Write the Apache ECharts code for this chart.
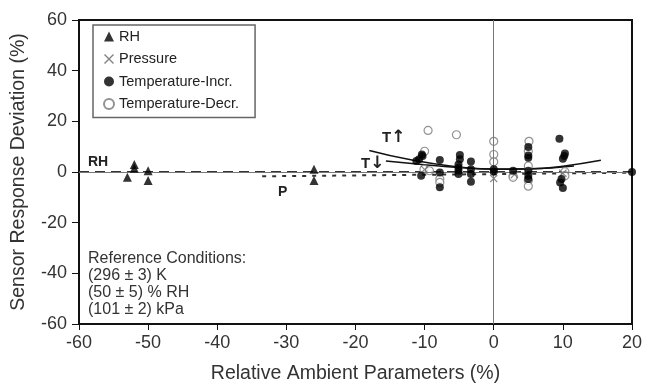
<!DOCTYPE html>
<html><head><meta charset="utf-8">
<script src="https://cdn.jsdelivr.net/npm/echarts@6/dist/echarts.min.js"></script>
<style>html,body{margin:0;padding:0;background:#fff}#c{width:645px;height:389px}</style>
</head><body><div id="c"></div>
<script>
// ---- data ----
const xRange = [-60, 20];
const yRange = [-60, 60];
const rhPoints = [[-53,-2.1],[-52,3.0],[-52,1.5],[-50,0.5],[-50,-3.4],[-26,1.1],[-26,-3.4]];
const pressurePoints = [[-10,1.0],[-5,0.5],[0,-2.6],[3,-1.0],[5,-0.8],[10,-0.5]];
const tempIncrPoints = [
  [-10.4,6.9],[-10.3,6.3],[-10.8,5.0],[-11.2,4.3],[-10.5,-1.5],
  [-7.8,4.7],[-7.8,-0.2],[-7.8,-6.0],
  [-4.9,6.7],[-4.9,5.0],[-5.1,3.0],[-5.1,1.7],[-5.1,0.5],[-5.1,-0.8],
  [-3.3,4.1],[-3.3,1.1],[-3.3,-0.8],[-3.3,-3.8],
  [0,1.1],[0,0.1],
  [2.8,0.5],
  [5.0,9.9],[5.0,6.5],[5.0,5.6],[5.0,0.5],[5.0,-1.5],[5.0,-2.8],
  [9.5,13.1],[10.3,7.3],[10.2,6.3],[10,5.2],[9.8,-2.8],[9.6,-4.1],[10,-6.3],
  [20,0]
];
const tempDecrPoints = [
  [-9.5,16.4],[-5.4,14.7],[-10,8.2],[-10.1,1.1],[-9.3,0.5],
  [-7.8,-2.8],[-7.8,-4.1],
  [0,12.1],[0,6.9],[0,4.0],
  [2.8,-1.5],[2.8,-2.1],
  [5.1,12.1],[5,8.2],[5,2.4],[5,-3.4],[5,-5.6],
  [10.3,0.1],[10.3,-1.5]
];
const rhLine = [[-60,0],[20,0]];
const pLine = [[-33.5,-1.7],[20,-0.3]];
const tUpCurve = [[-18,8.5],[-12,4.8],[-6,2.3],[0,1.1],[5,1.2],[10,2.3],[15.5,4.6]];
const tDownCurve = [[-15.6,4.3],[-10,2.9],[-5,1.8],[0,1.2],[5,1.3],[11.6,2.4]];
const legendNames = ['RH','Pressure','Temperature-Incr.','Temperature-Decr.'];
const conditionLines = ['Reference Conditions:','(296 \u00b1 3) K','(50 \u00b1 5) % RH','(101 \u00b1 2) kPa'];

const FONT = "'Liberation Sans', Arial, sans-serif";
const crossPath = 'path://M0,1L1,0L5,4L9,0L10,1L6,5L10,9L9,10L5,6L1,10L0,9L4,5Z';
const arrowRich = { a: { fontFamily: "'DejaVu Sans', sans-serif", fontSize: 17, fontWeight: 'bold', fill: '#222' } };

const chart = echarts.init(document.getElementById('c'));
chart.setOption({
  animation: false,
  backgroundColor: '#fff',
  textStyle: { fontFamily: FONT },
  grid: { left: 79, right: 12, top: 20, bottom: 60, show: true, borderColor: '#111', borderWidth: 2, backgroundColor: 'transparent' },
  legend: {
    data: legendNames, orient: 'vertical', left: 93, top: 25,
    padding: [4, 16, 6, 10], itemGap: 7.5, itemWidth: 10, itemHeight: 10,
    borderColor: '#666', borderWidth: 1.5, backgroundColor: '#fff',
    textStyle: { fontSize: 14.5, color: '#222', fontFamily: FONT }
  },
  xAxis: {
    type: 'value', min: xRange[0], max: xRange[1], interval: 10,
    name: 'Relative Ambient Parameters (%)', nameLocation: 'middle', nameGap: 40,
    nameTextStyle: { fontSize: 19.5, color: '#333', fontFamily: FONT },
    axisLine: { show: true, onZero: false, lineStyle: { color: '#111', width: 2 } },
    axisTick: { show: true, inside: false, length: 6, lineStyle: { color: '#111' } },
    axisLabel: { fontSize: 18, color: '#333', margin: 10, fontFamily: FONT },
    splitLine: { show: false }
  },
  yAxis: {
    type: 'value', min: yRange[0], max: yRange[1], interval: 20,
    name: 'Sensor Response Deviation (%)', nameLocation: 'middle', nameGap: 50,
    nameTextStyle: { fontSize: 19.5, color: '#333', fontFamily: FONT },
    axisLine: { show: true, onZero: false, lineStyle: { color: '#111', width: 2 } },
    axisTick: { show: true, inside: false, length: 7, lineStyle: { color: '#111' } },
    axisLabel: { fontSize: 18, color: '#333', margin: 12, fontFamily: FONT },
    splitLine: { show: false }
  },
  graphic: [
    { type: 'text', left: 88, top: 250, style: { text: conditionLines.join('\n'), fontSize: 16, lineHeight: 17, fill: '#333', fontFamily: FONT } },
    { type: 'text', left: 88, top: 155, style: { text: 'RH', fontSize: 14, fontWeight: 'bold', fill: '#222', fontFamily: FONT } },
    { type: 'text', left: 278, top: 185, style: { text: 'P', fontSize: 14, fontWeight: 'bold', fill: '#222', fontFamily: FONT } },
    { type: 'text', left: 382, top: 129, style: { text: 'T{a|\u2191}', fontSize: 15, fontWeight: 'bold', fill: '#222', fontFamily: FONT, rich: arrowRich } },
    { type: 'text', left: 361, top: 155, style: { text: 'T{a|\u2193}', fontSize: 15, fontWeight: 'bold', fill: '#222', fontFamily: FONT, rich: arrowRich } }
  ],
  series: [
    { name: 'zero', type: 'line', data: [], silent: true, z: 1,
      markLine: { silent: true, symbol: 'none', label: { show: false },
        lineStyle: { color: '#777', width: 1, type: 'solid' },
        data: [{ xAxis: 0 }, { yAxis: 0 }] } },
    { name: 'RH line', type: 'line', data: rhLine, symbol: 'none', z: 2,
      lineStyle: { color: '#333', width: 2, type: [10, 6] } },
    { name: 'P line', type: 'line', data: pLine, symbol: 'none', z: 2,
      lineStyle: { color: '#333', width: 2, type: [4, 6] } },
    { name: 'T up', type: 'line', data: tUpCurve, symbol: 'none', smooth: true, z: 2,
      lineStyle: { color: '#111', width: 1.5 } },
    { name: 'T down', type: 'line', data: tDownCurve, symbol: 'none', smooth: true, z: 2,
      lineStyle: { color: '#111', width: 1.5 } },
    { name: 'Temperature-Decr.', type: 'scatter', data: tempDecrPoints, symbol: 'circle', symbolSize: 8, z: 3,
      itemStyle: { color: '#fff', borderColor: '#777', borderWidth: 1.2 } },
    { name: 'Pressure', type: 'scatter', data: pressurePoints, symbol: crossPath, symbolSize: 8, z: 4,
      itemStyle: { color: '#666' } },
    { name: 'Temperature-Incr.', type: 'scatter', data: tempIncrPoints, symbol: 'circle', symbolSize: 8, z: 5,
      itemStyle: { color: '#000' } },
    { name: 'RH', type: 'scatter', data: rhPoints, symbol: 'triangle', symbolSize: 9, z: 5,
      itemStyle: { color: '#000' } }
  ]
});
</script></body></html>
